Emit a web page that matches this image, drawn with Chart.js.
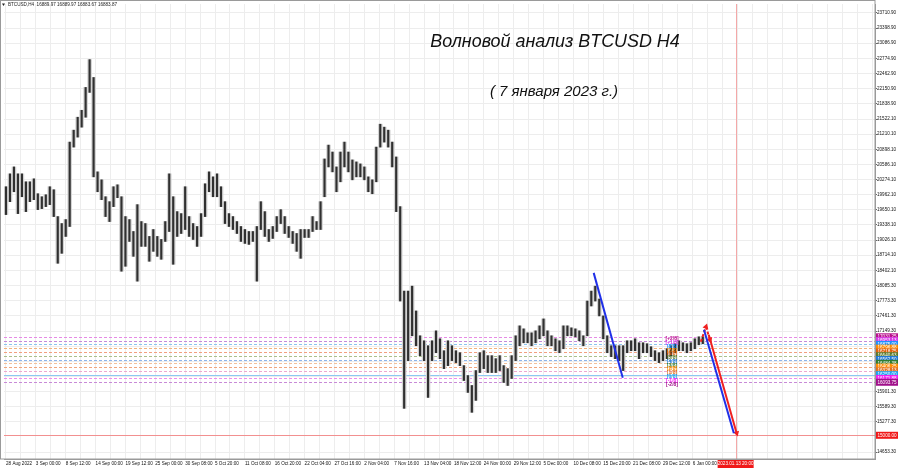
<!DOCTYPE html>
<html>
<head>
<meta charset="utf-8">
<script src="https://cdn.jsdelivr.net/npm/chart.js@4.4.1/dist/chart.umd.min.js"></script>
<style>
  html, body { margin: 0; padding: 0; background: #fff; }
  #wrap { width: 900px; height: 468px; }
</style>
</head>
<body>
<div id="wrap"><canvas id="chart" width="900" height="468"></canvas></div>
<script>
// BTCUSD H4, one column per ~5 candles: high / low
const highs = [
  20126, 20392, 20535, 20392, 20392, 20228, 20228, 20289, 19982, 19920,
  19961, 20126, 20064, 19511, 19367, 19449, 21047, 21293, 21560, 21703,
  22174, 22748, 22379, 20433, 20269, 19920, 19818, 20126, 20166, 19920,
  19511, 19449, 19203, 19757, 19408, 19367, 19101, 19244, 19101, 19039,
  19408, 20392, 19920, 19613, 19572, 20126, 19511, 19367, 19306, 19572,
  20187, 20433, 20330, 20392, 20126, 19818, 19572, 19511, 19408, 19306,
  19244, 19203, 19203, 19306, 19818, 19613, 19244, 19306, 19511, 19654,
  19511, 19306, 19203, 19162, 19244, 19244, 19244, 19511, 19408, 19818,
  20699, 20985, 20842, 20535, 20842, 21047, 20842, 20679, 20638, 20597,
  20535, 20330, 20269, 20944, 21416, 21355, 21293, 21047, 20740, 19716,
  17974, 17974, 18076, 17564, 17052, 16949, 16847, 16949, 17154, 16990,
  16744, 16949, 16847, 16744, 16703, 16437, 16232, 16027, 16335, 16703,
  16744, 16642, 16642, 16580, 16642, 16437, 16375, 16642, 17052, 17257,
  17195, 17113, 17113, 17154, 17257, 17400, 17154, 17052, 16990, 16949,
  17257, 17257, 17216, 17195, 17154, 17052, 17769, 17974, 18076, 17810,
  17462, 17052, 16847, 16847, 16847, 16847, 16949, 16949, 16990, 16908,
  16908, 16888, 16826, 16744, 16703, 16744, 16785, 16847, 16888, 16949,
  16908, 16888, 16908, 16990, 17031, 17031
];
const lows = [
  19552, 19818, 20023, 19572, 19920, 19613, 19818, 19859, 19654, 19675,
  19716, 19757, 19511, 18548, 18753, 19101, 19306, 20944, 21150, 21355,
  21560, 22072, 20330, 20023, 19859, 19511, 19408, 19716, 19900, 18384,
  18486, 18998, 18691, 18179, 18896, 18896, 18589, 18794, 18691, 18630,
  18998, 19203, 18527, 19101, 19162, 19244, 19101, 19039, 18896, 19101,
  19511, 20023, 19920, 19920, 19716, 19367, 19306, 19244, 19162, 18998,
  18957, 18937, 18998, 18179, 19244, 19101, 18998, 19060, 19203, 19367,
  19162, 19080, 18957, 18794, 18650, 19080, 19080, 19203, 19244, 19244,
  19920, 20535, 20433, 20023, 20228, 20535, 20433, 20269, 20330, 20330,
  20269, 20023, 19982, 20228, 20944, 21047, 20944, 20535, 19613, 17769,
  15556, 16540, 17052, 16847, 16642, 16540, 15781, 16540, 16703, 16580,
  16375, 16437, 16540, 16499, 16437, 16130, 15884, 15474, 15720, 16294,
  16375, 16294, 16294, 16294, 16335, 16089, 16027, 16171, 16540, 16847,
  16908, 16908, 16847, 16908, 16990, 17052, 16847, 16847, 16744, 16703,
  16785, 17052, 17052, 17031, 16949, 16847, 17052, 17667, 17769, 17462,
  16990, 16703, 16621, 16580, 16540, 16335, 16703, 16744, 16744, 16580,
  16703, 16703, 16621, 16540, 16499, 16540, 16580, 16642, 16703, 16744,
  16744, 16703, 16744, 16785, 16867, 16888
];

// price axis labels as printed by the terminal
const priceTicks = [
  23710.90, 23398.90, 23086.90, 22774.90, 22462.90, 22150.90, 21838.90,
  21522.10, 21210.10, 20898.10, 20586.10, 20274.10, 19962.10, 19650.10,
  19338.10, 19026.10, 18714.10, 18402.10, 18085.30, 17773.30, 17461.30,
  17149.30, 16837.30, 16525.30, 16213.30, 15901.30, 15589.30, 15277.30, 14653.30
];
const timeLabels = [
  '28 Aug 2022', '3 Sep 00:00', '8 Sep 12:00', '14 Sep 00:00', '19 Sep 12:00',
  '25 Sep 00:00', '30 Sep 08:00', '5 Oct 20:00', '11 Oct 08:00', '16 Oct 20:00',
  '22 Oct 04:00', '27 Oct 16:00', '2 Nov 04:00', '7 Nov 16:00', '13 Nov 04:00',
  '18 Nov 12:00', '24 Nov 00:00', '29 Nov 12:00', '5 Dec 00:00', '10 Dec 08:00',
  '15 Dec 20:00', '21 Dec 08:00', '29 Dec 12:00', '6 Jan 00:00'
];

// Murrey math levels
const murreyLevels = [17031.25, 16953.13, 16875.00, 16796.88, 16718.75, 16640.63, 16562.50,
                      16484.38, 16406.25, 16328.13, 16250.00, 16171.88, 16093.75];
const murreyNames = ['[+2/8]', '[+1/8]', '[8/8]', '[7/8]', '[6/8]', '[5/8]', '[4/8]',
                     '[3/8]', '[2/8]', '[1/8]', '[0/8]', '[-1/8]', '[-2/8]'];
const lineColors = ['#e58ae5', '#c58ad8', '#8cc4ee', '#f2b27c', '#f0a080', '#a8bf8c', '#8cb4ea',
                    '#f2c09a', '#f2a47c', '#eea8d0', '#8cc8f2', '#ee8cee', '#c88ad8'];
const boxColors = ['#b8108c', '#d838e8', '#1e90ff', '#ff8c00', '#e0600c', '#5a7a2c', '#1e78d8',
                   '#2e7d32', '#ff8c00', '#e07020', '#1ea0f0', '#f020f0', '#a0108a'];

const supportLevel = 15000;
const markerColumn = 183.25;
const markerLabel = '2023.01.13 20:00';

// hand drawn wave lines: x = column, y = price
const blueWave1 = [{ x: 147.6, y: 18350 }, { x: 154.9, y: 16185 }];
const blueWave2 = [{ x: 175.3, y: 17175 }, { x: 182.8, y: 15044 }];
const redUp = [{ x: 174.5, y: 16929 }, { x: 175.8, y: 17236 }];
const redBack = [{ x: 175.8, y: 17236 }, { x: 176.8, y: 16970 }];
const redDown = [{ x: 176.5, y: 17073 }, { x: 183.5, y: 15044 }];

const FONT = '"Liberation Sans", Arial, sans-serif';

const overlay = {
  id: 'overlay',
  beforeDatasetsDraw(chart) {
    const { ctx, chartArea: a, scales: { x, y } } = chart;
    ctx.save();
    ctx.lineWidth = 1;
    murreyLevels.forEach((v, i) => {
      const py = Math.round(y.getPixelForValue(v)) + 0.5;
      ctx.strokeStyle = lineColors[i];
      ctx.setLineDash(i === 10 ? [] : [3, 2]);
      ctx.beginPath(); ctx.moveTo(a.left, py); ctx.lineTo(a.right, py); ctx.stroke();
    });
    ctx.setLineDash([]);
    const sy = Math.round(y.getPixelForValue(supportLevel)) + 0.5;
    ctx.strokeStyle = '#f29090';
    ctx.beginPath(); ctx.moveTo(a.left, sy); ctx.lineTo(a.right, sy); ctx.stroke();
    const mx = Math.round(x.getPixelForValue(markerColumn)) + 0.5;
    ctx.strokeStyle = '#f4a8a8';
    ctx.beginPath(); ctx.moveTo(mx, a.top); ctx.lineTo(mx, a.bottom); ctx.stroke();
    ctx.restore();
  },
  afterDraw(chart) {
    const { ctx, chartArea: a, scales: { x, y } } = chart;
    ctx.save();
    // frame
    ctx.strokeStyle = '#9a9a9a';
    ctx.strokeRect(0.5, 0.5, a.right - 0.5, a.bottom - 0.5);

    // murrey names inside chart
    ctx.font = 'bold 5px ' + FONT;
    ctx.textAlign = 'center';
    ctx.textBaseline = 'middle';
    murreyLevels.forEach((v, i) => {
      ctx.fillStyle = boxColors[i];
      ctx.fillText(murreyNames[i], 672, y.getPixelForValue(v) + 2);
    });

    // price boxes on right axis
    ctx.font = '4.6px ' + FONT;
    ctx.textAlign = 'left';
    murreyLevels.forEach((v, i) => {
      const py = y.getPixelForValue(v);
      ctx.fillStyle = boxColors[i];
      ctx.fillRect(a.right + 1, py - 3.5, 22, 7);
      ctx.fillStyle = '#fff';
      ctx.fillText(v.toFixed(2), a.right + 2.5, py);
    });
    const sy = y.getPixelForValue(supportLevel);
    ctx.fillStyle = '#f01818';
    ctx.fillRect(a.right + 1, sy - 3.5, 22, 7);
    ctx.fillStyle = '#fff';
    ctx.fillText(supportLevel.toFixed(2), a.right + 2.5, sy);

    // time marker box
    const mx = x.getPixelForValue(markerColumn);
    ctx.fillStyle = '#f01818';
    ctx.fillRect(mx - 18, a.bottom + 1, 36, 8);
    ctx.fillStyle = '#fff';
    ctx.textAlign = 'center';
    ctx.fillText(markerLabel, mx, a.bottom + 5);

    // header
    ctx.fillStyle = '#222';
    ctx.textAlign = 'left';
    ctx.font = '4.6px ' + FONT;
    ctx.fillText('BTCUSD,H4  16889.97 16889.97 16883.67 16883.87', 8, 5);
    ctx.beginPath(); ctx.moveTo(2, 3.5); ctx.lineTo(5, 3.5); ctx.lineTo(3.5, 6); ctx.closePath(); ctx.fill();

    // title
    ctx.fillStyle = '#111';
    ctx.textAlign = 'center';
    ctx.font = 'italic 20px ' + FONT;
    const t1 = 'Волновой анализ BTCUSD H4';
    const w1 = ctx.measureText(t1).width;
    ctx.font = 'italic ' + (20 * 250 / w1).toFixed(1) + 'px ' + FONT;
    ctx.fillText(t1, 555, 42);
    ctx.font = 'italic 15px ' + FONT;
    ctx.fillText('( 7 января 2023 г.)', 554, 92);
    ctx.restore();
  }
};

const arrowLine = (data, color, dash, tipRotation) => ({
  type: 'line', data, borderColor: color, backgroundColor: color, borderWidth: 2,
  borderDash: dash, pointRadius: [0, 3.5], pointStyle: 'triangle',
  pointRotation: [0, tipRotation], pointBorderWidth: 0, order: 0
});

const ranges = highs.map((h, i) => ({ x: i, y: [lows[i], h] }));

new Chart(document.getElementById('chart'), {
  type: 'bar',
  data: {
    datasets: [
      { type: 'line', data: blueWave1, borderColor: '#2030e8', borderWidth: 2, pointRadius: 0, order: 0 },
      { type: 'line', data: blueWave2, borderColor: '#2030e8', borderWidth: 2, pointRadius: 0, order: 0 },
      arrowLine(redUp, '#f02020', [3, 2], 18),
      arrowLine(redBack, '#f02020', [3, 2], 160),
      arrowLine(redDown, '#f02020', [], 164),
      // candle cores
      { type: 'bar', data: ranges, backgroundColor: '#303030', barThickness: 1.5, grouped: false, order: 1 },
      // wick fringe
      { type: 'bar', data: ranges, backgroundColor: '#d4d4d4', barThickness: 4, grouped: false, order: 2 }
    ]
  },
  options: {
    responsive: false,
    animation: false,
    layout: { padding: { top: 1, left: 0, right: 0, bottom: 0 } },
    plugins: { legend: { display: false }, tooltip: { enabled: false } },
    scales: {
      x: {
        type: 'linear', offset: false, min: -0.5, max: 218.25,
        afterBuildTicks: s => { s.ticks = Array.from({ length: 59 }, (_, n) => ({ value: n * 3.75 })); },
        afterFit: s => { s.height = 9; },
        grid: { color: '#ededed', drawTicks: false, offset: false },
        border: { color: '#9a9a9a' },
        ticks: {
          autoSkip: false, maxRotation: 0, align: 'start', padding: 2, color: '#111',
          font: { size: 4.6, family: FONT },
          callback: (v, i) => (i % 2 === 0 && timeLabels[i / 2]) ? timeLabels[i / 2] : ''
        }
      },
      y: {
        position: 'right', min: 14511, max: 23895,
        afterBuildTicks: s => { s.ticks = priceTicks.map(v => ({ value: v })); },
        afterFit: s => { s.width = 25; },
        grid: { color: '#ededed', tickLength: 2, tickColor: '#666' },
        border: { color: '#9a9a9a' },
        ticks: { padding: 0, color: '#111', font: { size: 4.6, family: FONT }, callback: v => v.toFixed(2) }
      }
    }
  },
  plugins: [overlay]
});
</script>
</body>
</html>
